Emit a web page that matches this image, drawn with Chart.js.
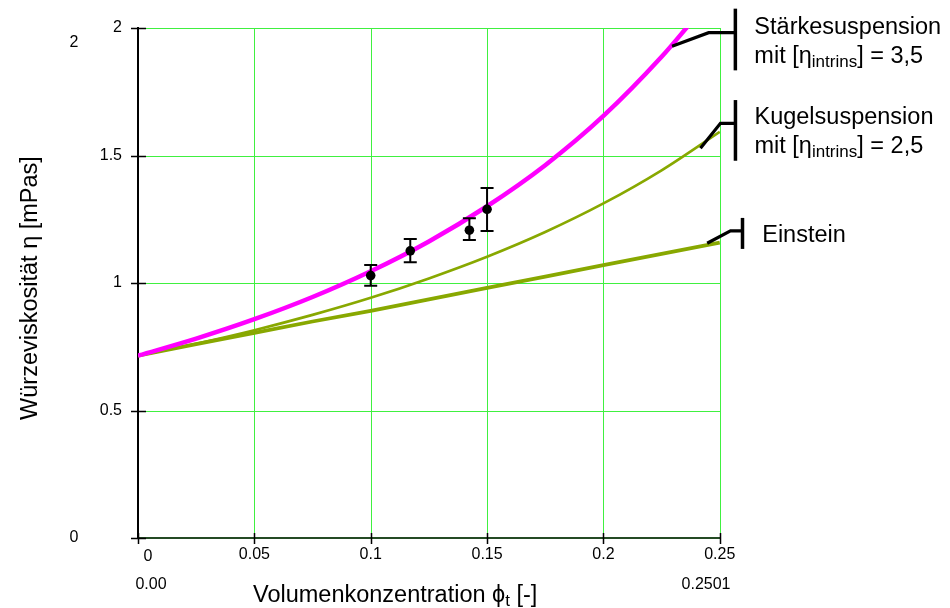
<!DOCTYPE html>
<html>
<head>
<meta charset="utf-8">
<script src="https://cdn.jsdelivr.net/npm/chart.js@4.4.1/dist/chart.umd.min.js"></script>
<style>
  html, body { margin: 0; padding: 0; background: #fff; }
  canvas { display: block; }
</style>
</head>
<body>
<canvas id="chart" width="950" height="608"></canvas>
<script>
// Würzeviskosität over Volumenkonzentration: model curves + measured points
const phi = [0, 0.025, 0.05, 0.075, 0.1, 0.125, 0.15, 0.175, 0.2, 0.225, 0.25];
const etaEinstein = [0.715, 0.760, 0.804, 0.849, 0.891, 0.936, 0.981, 1.025, 1.070, 1.114, 1.158];
const etaKugel = [0.715, 0.762, 0.815, 0.875, 0.942, 1.018, 1.103, 1.200, 1.312, 1.442, 1.593];

const phiStaerke = [0, 0.025, 0.05, 0.075, 0.1, 0.125, 0.15, 0.175, 0.2, 0.225, 0.2375];
const etaStaerke = [0.715, 0.782, 0.858, 0.945, 1.046, 1.163, 1.301, 1.462, 1.655, 1.887, 2.02];

const phiMeas = [0.1, 0.117, 0.1424, 0.15];
const etaMeas = [1.029, 1.126, 1.207, 1.289];
const etaMeasLow = [0.989, 1.081, 1.169, 1.204];
const etaMeasHigh = [1.071, 1.173, 1.254, 1.373];

const xTicks = [0, 0.05, 0.1, 0.15, 0.2, 0.25];
const xTickLabels = ['0', '0.05', '0.1', '0.15', '0.2', '0.25'];
const yTicks = [0, 0.5, 1, 1.5, 2];
const yTickLabels = ['', '0.5', '1', '1.5', '2'];

const FONT = "'Liberation Sans', Arial, sans-serif";
const GRID = '#40f040';
const OLIVE = '#88a800';
const MAGENTA = '#ff00ff';

const pairs = (xs, ys) => xs.map((x, i) => ({ x, y: ys[i] }));

// curve labels: anchor on the curve (data units), rest in pixels from there
const notes = [
  { x: 0.2295, y: 1.928, elbow: [36.6, -13.7], arm: 63.3, bar: [-24, 37.7], textDx: 82.3,
    lines: [{ text: 'Stärkesuspension', dy: 1 }, { text: 'mit [η', sub: 'intrins', post: '] = 3,5', dy: 30 }] },
  { x: 0.2417, y: 1.528, elbow: [20, -25], arm: 35, bar: [-23.3, 37.4], textDx: 54,
    lines: [{ text: 'Kugelsuspension', dy: 1 }, { text: 'mit [η', sub: 'intrins', post: '] = 2,5', dy: 30 }] },
  { x: 0.2446, y: 1.156, elbow: [23.3, -12.3], arm: 35.3, bar: [-13, 18], textDx: 55,
    lines: [{ text: 'Einstein', dy: 11.3 }] }
];

function drawSubText(ctx, x, y, big, line) {
  ctx.font = big + 'px ' + FONT;
  ctx.fillText(line.text, x, y);
  if (!line.sub) return;
  x += ctx.measureText(line.text).width;
  ctx.font = Math.round(big * 0.72) + 'px ' + FONT;
  ctx.fillText(line.sub, x, y + 4);
  x += ctx.measureText(line.sub).width;
  ctx.font = big + 'px ' + FONT;
  ctx.fillText(line.post, x, y);
}

const extras = {
  id: 'extras',
  beforeDraw(chart) {
    // green grid, drawn under everything
    const { ctx, chartArea: a, scales: { x, y } } = chart;
    ctx.save();
    ctx.strokeStyle = GRID;
    ctx.lineWidth = 1;
    ctx.beginPath();
    yTicks.forEach(v => {
      const py = Math.round(y.getPixelForValue(v)) + 0.5;
      ctx.moveTo(a.left, py);
      ctx.lineTo(a.right, py);
    });
    xTicks.forEach(v => {
      const px = Math.round(x.getPixelForValue(v)) + 0.5;
      ctx.moveTo(px, a.top);
      ctx.lineTo(px, a.bottom);
    });
    ctx.stroke();
    ctx.restore();
  },
  beforeDatasetsDraw(chart) {
    const { ctx, chartArea: a, scales: { x, y } } = chart;
    ctx.save();
    ctx.strokeStyle = '#000';
    ctx.lineWidth = 1.5;
    ctx.beginPath();
    yTicks.forEach(v => {
      const py = Math.round(y.getPixelForValue(v)) + 0.5;
      ctx.moveTo(a.left - 7, py);
      ctx.lineTo(a.left + 8, py);
    });
    xTicks.forEach(v => {
      const px = Math.round(x.getPixelForValue(v)) + 0.5;
      ctx.moveTo(px, a.bottom - 5);
      ctx.lineTo(px, a.bottom + 6);
    });
    ctx.stroke();
    ctx.restore();
  },
  afterDatasetsDraw(chart) {
    const { ctx, chartArea: a, scales: { x, y } } = chart;
    ctx.save();

    // error bars
    ctx.strokeStyle = '#000';
    ctx.lineWidth = 2;
    phiMeas.forEach((p, i) => {
      const px = x.getPixelForValue(p);
      const top = y.getPixelForValue(etaMeasHigh[i]);
      const bot = y.getPixelForValue(etaMeasLow[i]);
      ctx.beginPath();
      ctx.moveTo(px, top); ctx.lineTo(px, bot);
      ctx.moveTo(px - 6.5, top); ctx.lineTo(px + 6.5, top);
      ctx.moveTo(px - 6.5, bot); ctx.lineTo(px + 6.5, bot);
      ctx.stroke();
    });

    // curve labels
    ctx.fillStyle = '#000';
    ctx.textAlign = 'left';
    ctx.textBaseline = 'alphabetic';
    notes.forEach(n => {
      const ax = x.getPixelForValue(n.x);
      const ay = y.getPixelForValue(n.y);
      const ex = ax + n.elbow[0];
      const ey = ay + n.elbow[1];
      const bx = ax + n.arm;
      ctx.lineWidth = 3.2;
      ctx.beginPath();
      ctx.moveTo(ax, ay);
      ctx.lineTo(ex, ey);
      ctx.lineTo(bx, ey);
      ctx.stroke();
      ctx.lineWidth = 3.5;
      ctx.beginPath();
      ctx.moveTo(bx, ey + n.bar[0]);
      ctx.lineTo(bx, ey + n.bar[1]);
      ctx.stroke();
      n.lines.forEach(l => drawSubText(ctx, ax + n.textDx, ey + l.dy, 23.5, l));
    });

    // axis range labels and the shifted zero
    ctx.font = '16px ' + FONT;
    ctx.textAlign = 'center';
    ctx.fillText('2', a.left - 64, a.top + 19);
    ctx.fillText('0', a.left - 64, a.bottom + 4);
    ctx.fillText('0.00', a.left + 13, a.bottom + 51);
    ctx.fillText('0.2501', a.right - 14, a.bottom + 51);
    ctx.fillText(xTickLabels[0], a.left + 10, a.bottom + 23);

    // axis titles
    ctx.save();
    ctx.translate(36.5, (a.top + a.bottom) / 2 + 5);
    ctx.rotate(-Math.PI / 2);
    ctx.font = '23.5px ' + FONT;
    ctx.fillText('Würzeviskosität η [mPas]', 0, 0);
    ctx.restore();

    ctx.textAlign = 'left';
    drawSubText(ctx, 253, 602, 23.5, { text: 'Volumenkonzentration ϕ', sub: 't', post: ' [-]' });
    ctx.restore();
  }
};

new Chart(document.getElementById('chart').getContext('2d'), {
  type: 'scatter',
  data: {
    datasets: [
      {
        label: 'Messwerte',
        data: pairs(phiMeas, etaMeas),
        pointRadius: 4.8,
        pointBackgroundColor: '#000',
        pointBorderColor: '#000',
        pointBorderWidth: 0,
        showLine: false
      },
      {
        label: 'Stärkesuspension',
        data: pairs(phiStaerke, etaStaerke),
        showLine: true,
        borderColor: MAGENTA,
        borderWidth: 4.5,
        pointRadius: 0,
        cubicInterpolationMode: 'monotone',
        clip: 0
      },
      {
        label: 'Kugelsuspension',
        data: pairs(phi, etaKugel),
        showLine: true,
        borderColor: OLIVE,
        borderWidth: 2.6,
        pointRadius: 0,
        cubicInterpolationMode: 'monotone'
      },
      {
        label: 'Einstein',
        data: pairs(phi, etaEinstein),
        showLine: true,
        borderColor: OLIVE,
        borderWidth: 3.8,
        pointRadius: 0
      }
    ]
  },
  options: {
    responsive: false,
    animation: false,
    devicePixelRatio: 1,
    layout: { padding: { top: 28, right: 230, left: 0, bottom: 0 } },
    plugins: { legend: { display: false }, tooltip: { enabled: false } },
    scales: {
      x: {
        type: 'linear',
        min: 0,
        max: 0.2501,
        afterBuildTicks: s => { s.ticks = xTicks.map(v => ({ value: v })); },
        afterFit: s => { s.height = 70; },
        ticks: {
          color: '#000',
          font: { size: 16, family: FONT },
          padding: 7,
          maxRotation: 0,
          autoSkip: false,
          callback: (v, i) => (i === 0 ? '' : xTickLabels[i])
        },
        grid: { display: false, drawTicks: false },
        border: { display: true, color: '#244a24', width: 2 }
      },
      y: {
        type: 'linear',
        min: 0,
        max: 2,
        afterBuildTicks: s => { s.ticks = yTicks.map(v => ({ value: v })); },
        afterFit: s => { s.width = 138; },
        ticks: {
          color: '#000',
          font: { size: 16, family: FONT },
          padding: 16,
          autoSkip: false,
          callback: (v, i) => yTickLabels[i]
        },
        grid: { display: false, drawTicks: false },
        border: { display: true, color: '#000', width: 2 }
      }
    }
  },
  plugins: [extras]
});
</script>
</body>
</html>
